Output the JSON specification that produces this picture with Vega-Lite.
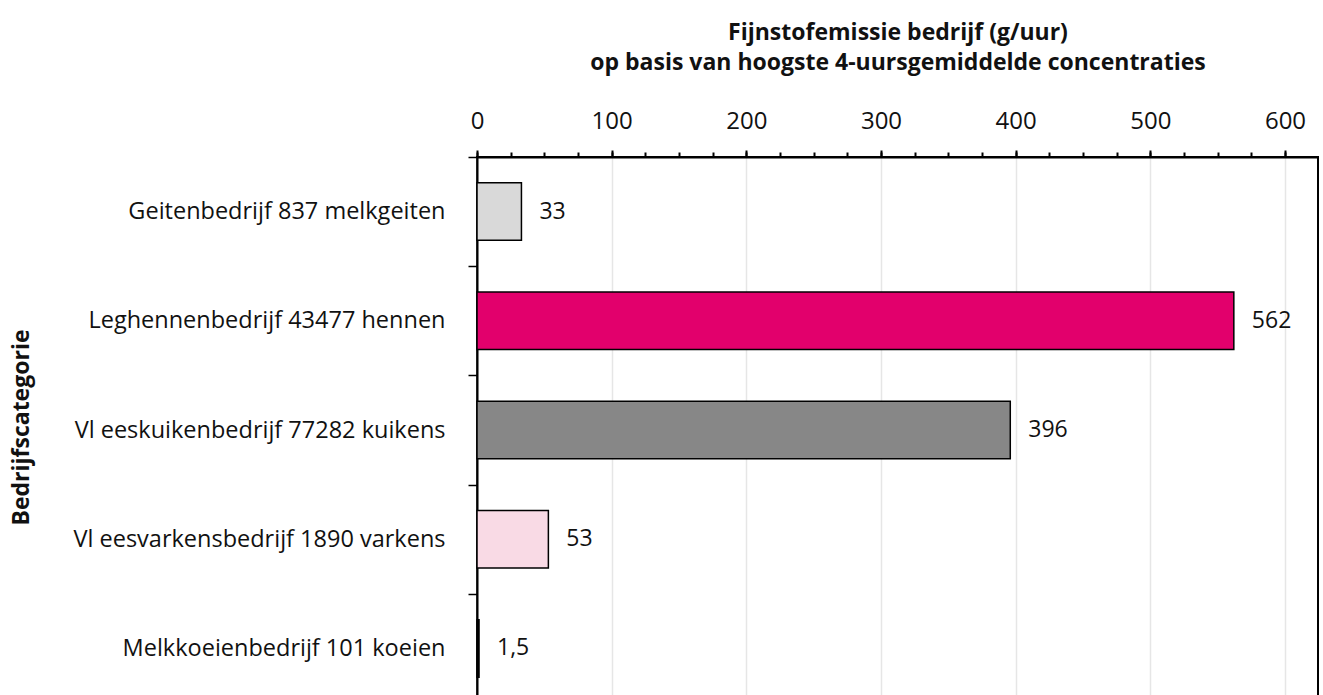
{
  "$schema": "https://vega.github.io/schema/vega-lite/v6.json",
  "autosize": {"type": "none"},
  "padding": {"left": 477, "top": 157, "right": 5, "bottom": 0},
  "width": 841,
  "height": 546,
  "background": "white",
  "config": {
    "font": "Open Sans",
    "view": {"stroke": "black", "strokeWidth": 2},
    "axis": {"labelFont": "Open Sans", "titleFont": "Open Sans", "labelColor": "#111", "titleColor": "#111"}
  },
  "data": {
    "values": [
      {"categorie": "Geitenbedrijf 837 melkgeiten", "waarde": 33, "label": "33", "kleur": "#d9d9d9"},
      {"categorie": "Leghennenbedrijf 43477 hennen", "waarde": 562, "label": "562", "kleur": "#e2006c"},
      {"categorie": "Vl eeskuikenbedrijf 77282 kuikens", "waarde": 396, "label": "396", "kleur": "#878787"},
      {"categorie": "Vl eesvarkensbedrijf 1890 varkens", "waarde": 53, "label": "53", "kleur": "#f9dae5"},
      {"categorie": "Melkkoeienbedrijf 101 koeien", "waarde": 1.5, "label": "1,5", "kleur": "#000000"}
    ]
  },
  "encoding": {
    "y": {
      "field": "categorie",
      "type": "nominal",
      "sort": null,
      "scale": {"paddingInner": 0.473, "paddingOuter": 0.2365},
      "axis": {
        "title": "Bedrijfscategorie",
        "titleFontSize": 23,
        "titleFontWeight": "bold",
        "titleX": -444,
        "titleY": 270,
        "titleAngle": -90,
        "titleAlign": "center",
        "titleBaseline": "bottom",
        "labelFontSize": 23.5,
        "labelPadding": 23,
        "labelLimit": 1000,
        "tickSize": 9,
        "tickWidth": 1.5,
        "tickColor": "black",
        "domainColor": "black",
        "domainWidth": 2,
        "tickOffset": -54.6,
        "labelOffset": 54.6,
        "grid": false
      }
    }
  },
  "layer": [
    {
      "mark": {"type": "bar", "stroke": "black", "strokeWidth": 1.5},
      "encoding": {
        "x": {
          "field": "waarde",
          "type": "quantitative",
          "scale": {"domain": [0, 624.5], "nice": false, "zero": true},
          "axis": {
            "orient": "top",
            "values": [0, 100, 200, 300, 400, 500, 600],
            "title": ["Fijnstofemissie bedrijf (g/uur)", "op basis van hoogste 4-uursgemiddelde concentraties"],
            "titleFontSize": 23,
            "titleFontWeight": "bold",
            "titleLineHeight": 30,
            "titlePadding": 35,
            "labelFontSize": 24,
            "labelPadding": 17,
            "tickSize": 7,
            "tickWidth": 2,
            "tickColor": "black",
            "domainColor": "black",
            "domainWidth": 2,
            "grid": true,
            "gridColor": "#e6e6e6",
            "gridWidth": 1.5,
            "labelFlush": false
          }
        },
        "fill": {"field": "kleur", "type": "nominal", "scale": null}
      }
    },
    {
      "mark": {"type": "text", "align": "left", "baseline": "middle", "dx": 18, "fontSize": 23, "color": "#111"},
      "encoding": {
        "x": {
          "field": "waarde",
          "type": "quantitative",
          "axis": {
            "orient": "top",
            "values": [0, 25, 50, 75, 100, 125, 150, 175, 200, 225, 250, 275, 300, 325, 350, 375, 400, 425, 450, 475, 500, 525, 550, 575, 600],
            "labels": false,
            "title": null,
            "tickSize": 5,
            "tickWidth": 2,
            "tickColor": "black",
            "domain": false,
            "grid": false
          }
        },
        "text": {"field": "label"}
      }
    }
  ],
  "resolve": {"axis": {"x": "independent"}}
}
